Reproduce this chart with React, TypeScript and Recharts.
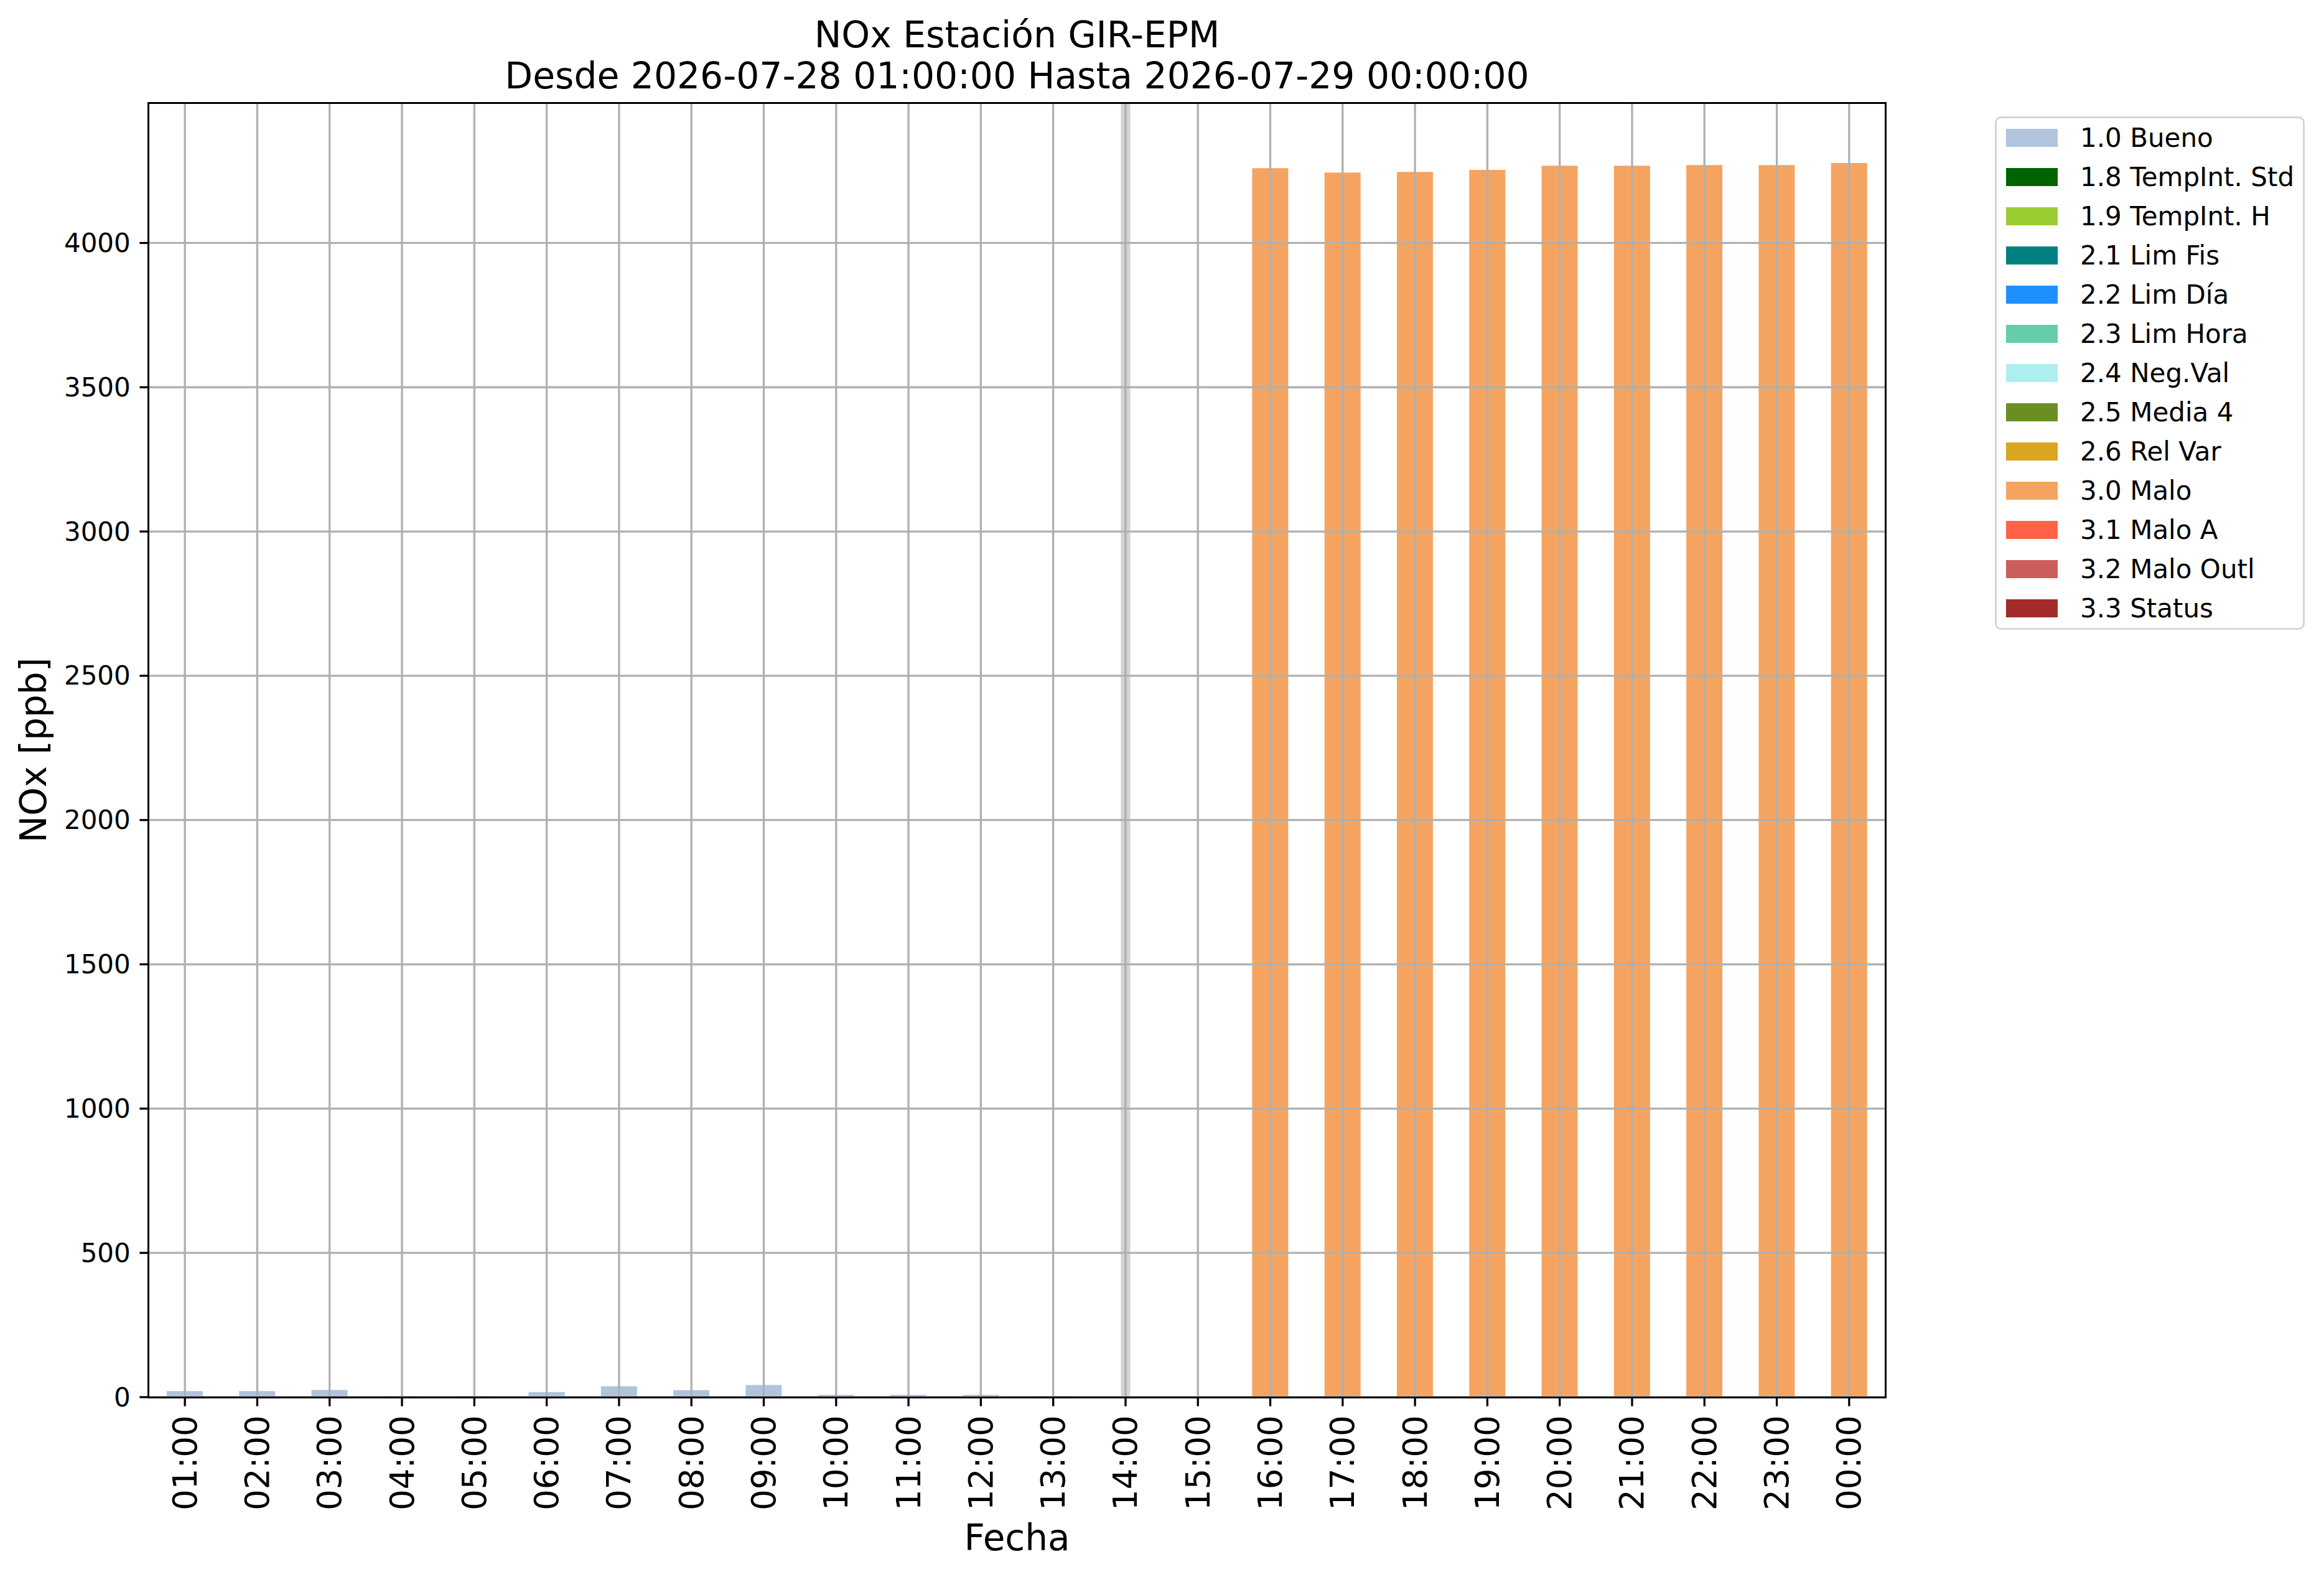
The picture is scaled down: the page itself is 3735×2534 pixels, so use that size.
import React from 'react';
import { BarChart, Bar, XAxis, YAxis, ReferenceLine } from 'recharts';

const hours = [
  '01:00', '02:00', '03:00', '04:00', '05:00', '06:00', '07:00', '08:00',
  '09:00', '10:00', '11:00', '12:00', '13:00', '14:00', '15:00', '16:00',
  '17:00', '18:00', '19:00', '20:00', '21:00', '22:00', '23:00', '00:00',
];

const bueno = [21, 21, 25, 3, 3, 18, 38, 24, 42, 8, 8, 8, 3, 0, 0, 0, 0, 0, 0, 0, 0, 0, 0, 0];
const malo = [0, 0, 0, 0, 0, 0, 0, 0, 0, 0, 0, 0, 0, 0, 0, 4259, 4244, 4246, 4253, 4268, 4268, 4270, 4270, 4277];
// flags with no data in this window
const empty = [0, 0, 0, 0, 0, 0, 0, 0, 0, 0, 0, 0, 0, 0, 0, 0, 0, 0, 0, 0, 0, 0, 0, 0];

const yTicks = [0, 500, 1000, 1500, 2000, 2500, 3000, 3500, 4000];

const series = [
  { key: 'b10', name: '1.0 Bueno', color: '#b0c4de', values: bueno },
  { key: 'b18', name: '1.8 TempInt. Std', color: '#006400', values: empty },
  { key: 'b19', name: '1.9 TempInt. H', color: '#9acd32', values: empty },
  { key: 'b21', name: '2.1 Lim Fis', color: '#008080', values: empty },
  { key: 'b22', name: '2.2 Lim Día', color: '#1e90ff', values: empty },
  { key: 'b23', name: '2.3 Lim Hora', color: '#66cdaa', values: empty },
  { key: 'b24', name: '2.4 Neg.Val', color: '#afeeee', values: empty },
  { key: 'b25', name: '2.5 Media 4', color: '#6b8e23', values: empty },
  { key: 'b26', name: '2.6 Rel Var', color: '#daa520', values: empty },
  { key: 'b30', name: '3.0 Malo', color: '#f4a460', values: malo },
  { key: 'b31', name: '3.1 Malo A', color: '#ff6347', values: empty },
  { key: 'b32', name: '3.2 Malo Outl', color: '#cd5c5c', values: empty },
  { key: 'b33', name: '3.3 Status', color: '#a52a2a', values: empty },
];

const data = hours.map((h, i) => {
  const row: Record<string, any> = { hour: h };
  series.forEach((s) => (row[s.key] = s.values[i]));
  return row;
});

const W = 3735;
const H = 2534;
const PL = 239, PR = 3030, PT = 166, PB = 2245;
const FONT = '"DejaVu Sans", sans-serif';
const LW = 3.3;
const GRID = '#b0b0b0';

const XTick = (props: any) => {
  const { x, y, payload } = props;
  return (
    <text
      x={x}
      y={y}
      transform={`rotate(-90 ${x} ${y})`}
      textAnchor="end"
      dominantBaseline="central"
      fontFamily={FONT}
      fontSize={53}
      fill="#000"
    >
      {payload.value}
    </text>
  );
};

const YTick = (props: any) => {
  const { x, y, payload } = props;
  return (
    <text x={x} y={y} textAnchor="end" dominantBaseline="central" fontFamily={FONT} fontSize={42} fill="#000">
      {payload.value}
    </text>
  );
};

export default function App() {
  const yAxisW = 120;
  const xAxisH = 200;
  return (
    <div style={{ position: 'absolute', left: 0, top: 0, width: W, height: H, background: '#fff' }}>
      <BarChart
        width={W}
        height={H}
        data={data}
        margin={{ left: PL - yAxisW, right: W - PR, top: PT, bottom: H - PB - xAxisH }}
        barSize={58}
      >
        <XAxis
          dataKey="hour"
          interval={0}
          axisLine={false}
          tickLine={{ stroke: '#000', strokeWidth: LW }}
          tickSize={14.6}
          tickMargin={14.6}
          height={xAxisH}
          tick={<XTick />}
        />
        <YAxis
          type="number"
          domain={[0, 4484]}
          ticks={yTicks}
          allowDataOverflow
          axisLine={false}
          tickLine={{ stroke: '#000', strokeWidth: LW }}
          tickSize={14.6}
          tickMargin={14.6}
          width={yAxisW}
          tick={<YTick />}
        />
        {series.map((s) => (
          <Bar key={s.key} dataKey={s.key} name={s.name} stackId="a" fill={s.color} isAnimationActive={false} />
        ))}
        <ReferenceLine x="14:00" stroke="#d3d3d3" strokeWidth={15} />
        {/* grid drawn on top of the bars, as in the original */}
        {hours.map((h) => (
          <ReferenceLine key={'gx' + h} x={h} stroke={GRID} strokeWidth={LW} />
        ))}
        {yTicks.map((t) => (
          <ReferenceLine key={'gy' + t} y={t} stroke={GRID} strokeWidth={LW} />
        ))}
      </BarChart>

      {/* axes frame */}
      <div
        style={{
          position: 'absolute',
          left: PL - LW / 2,
          top: PT - LW / 2,
          width: PR - PL + LW,
          height: PB - PT + LW,
          border: `${LW}px solid #000`,
          boxSizing: 'border-box',
          pointerEvents: 'none',
        }}
      />

      <svg width={W} height={H} style={{ position: 'absolute', left: 0, top: 0, pointerEvents: 'none' }}>
        <text x={(PL + PR) / 2} y={76} textAnchor="middle" fontFamily={FONT} fontSize={58.3}>
          NOx Estación GIR-EPM
        </text>
        <text x={(PL + PR) / 2} y={142} textAnchor="middle" fontFamily={FONT} fontSize={58.3}>
          Desde 2026-07-28 01:00:00 Hasta 2026-07-29 00:00:00
        </text>
        <text x={(PL + PR) / 2} y={2491} textAnchor="middle" fontFamily={FONT} fontSize={58}>
          Fecha
        </text>
        <text
          x={74}
          y={(PT + PB) / 2}
          transform={`rotate(-90 74 ${(PT + PB) / 2})`}
          textAnchor="middle"
          fontFamily={FONT}
          fontSize={58}
        >
          NOx [ppb]
        </text>
      </svg>

      {/* legend */}
      <div
        style={{
          position: 'absolute',
          left: 3206,
          top: 187,
          width: 498,
          height: 825,
          border: `${LW}px solid #d6d6d6`,
          borderRadius: 10,
          boxSizing: 'border-box',
          background: '#fff',
          fontFamily: FONT,
          fontSize: 42,
        }}
      >
        {series.map((s, i) => (
          <div
            key={s.key}
            style={{ position: 'absolute', left: 15, top: 3 + i * 63 - LW, height: 63, display: 'flex', alignItems: 'center' }}
          >
            <div style={{ width: 83, height: 29, background: s.color }} />
            <span style={{ marginLeft: 36, whiteSpace: 'nowrap', color: '#000' }}>{s.name}</span>
          </div>
        ))}
      </div>
    </div>
  );
}
